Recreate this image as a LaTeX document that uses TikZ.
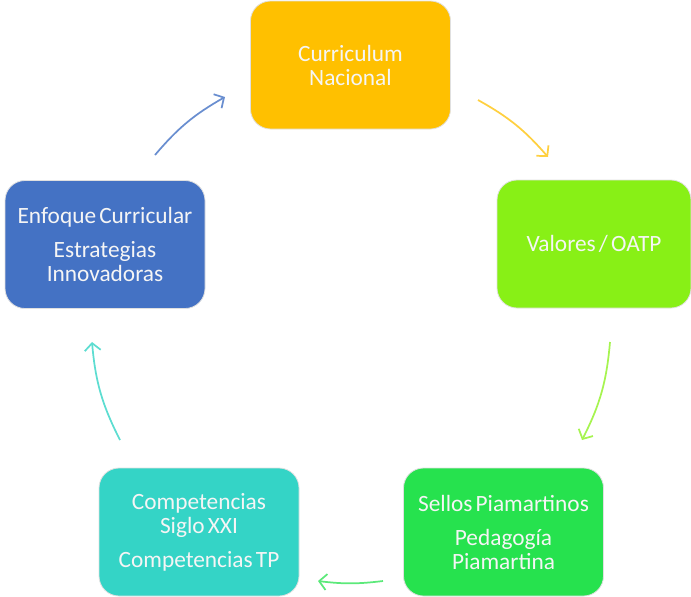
\documentclass[tikz,border=0pt]{standalone}
\usepackage{fontspec}
\setmainfont{Carlito}[WordSpace=0.6]
\usetikzlibrary{arrows.meta}

\definecolor{cOrange}{RGB}{255,192,0}
\definecolor{cLime}{RGB}{136,240,22}
\definecolor{cGreen}{RGB}{38,226,78}
\definecolor{cTeal}{RGB}{52,212,198}
\definecolor{cBlue}{RGB}{68,114,196}

\begin{document}
\begin{tikzpicture}[x=0.75pt, y=-0.75pt,
  box/.style = {draw=black!12, line width=0.6pt, rounded corners=15pt, minimum width=150pt, minimum height=96pt, inner sep=0pt, align=center, text=white!96!black, font=\fontsize{17.5}{18}\selectfont},
  arr/.style = {line width=1.3pt, -{Straight Barb[length=5.5pt, width=12pt]}}]

\useasboundingbox (0, 0) rectangle (691, 596);

\node[box, fill=cOrange] (N1) at (350.5, 65) {Curriculum\\Nacional};
\node[box, fill=cLime, minimum width=145.5pt] (N2) at (594, 244) {Valores / OATP};
\node[box, fill=cGreen] (N3) at (503.5, 532) {Sellos Piamartinos\\[7.5pt]Pedagog\'{\i}a\\Piamartina};
\node[box, fill=cTeal] (N4) at (199, 532) {Competencias\\Siglo XXI\\[7.5pt]Competencias TP};
\node[box, fill=cBlue] (N5) at (105, 244.5) {Enfoque Curricular\\[7.5pt]Estrategias\\Innovadoras};


\coordinate (A1) at (478, 100);
\coordinate (A1c) at (548, 157);
\coordinate (A2) at (610, 342);
\coordinate (A2c) at (582, 440);
\coordinate (A3) at (383, 581);
\coordinate (A3c) at (318, 581);
\coordinate (A4) at (120, 440);
\coordinate (A4c) at (92, 342);
\coordinate (A5) at (155, 155);
\coordinate (A5c) at (225, 97);

\draw[arr, cOrange!75!white] (A1) to [bend left=10] (A1c);
\draw[arr, cLime!75!white] (A2) to [bend left=11] (A2c);
\draw[arr, cGreen!75!white] (A3) to [bend left=7] (A3c);
\draw[arr, cTeal!80!white] (A4) to [bend left=11] (A4c);
\draw[arr, cBlue!80!white] (A5) to [bend left=10] (A5c);

\end{tikzpicture}
\end{document}
